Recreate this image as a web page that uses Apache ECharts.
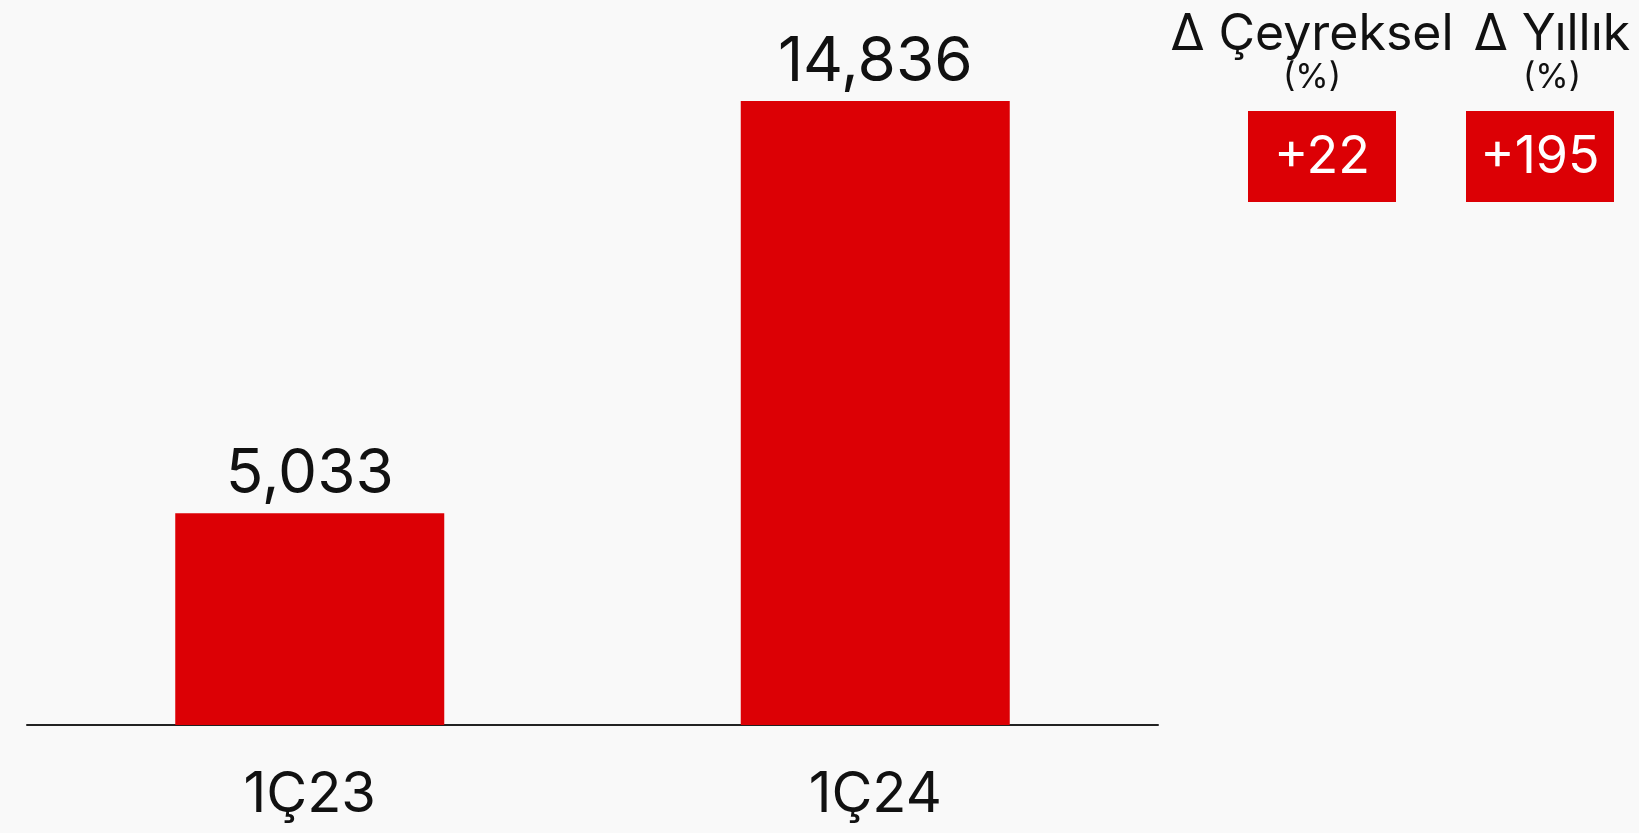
<!DOCTYPE html>
<html>
<head>
<meta charset="utf-8">
<script src="https://cdn.jsdelivr.net/npm/echarts@6/dist/echarts.min.js"></script>
<style>
  html, body { margin: 0; padding: 0; background: #f9f9f9; }
  #main { width: 1639px; height: 833px; }
</style>
</head>
<body>
<div id="main"></div>
<script>
// data
const categories = ['1Ç23', '1Ç24'];
const values = [5033, 14836];
const changeTitles = ['Δ Çeyreksel', 'Δ Yıllık'];
const changeValues = ['+22', '+195'];

const RED = '#dc0005';
const FONT = 'Inter, "Noto Sans", sans-serif';

const chart = echarts.init(document.getElementById('main'));

// right-hand boxes
const boxX = [1248, 1466];
const titleX = [1312, 1552];
const graphics = [];
changeTitles.forEach(function (t, i) {
  graphics.push({
    type: 'text', x: titleX[i], y: 10,
    style: { text: t, font: '50px ' + FONT, fill: '#111', align: 'center', verticalAlign: 'top' }
  });
  graphics.push({
    type: 'text', x: titleX[i], y: 61,
    style: { text: '(%)', font: '34px ' + FONT, fill: '#111', align: 'center', verticalAlign: 'top' }
  });
  graphics.push({
    type: 'rect', shape: { x: boxX[i], y: 111, width: 148, height: 91 },
    style: { fill: RED }
  });
  graphics.push({
    type: 'text', x: boxX[i] + 74, y: 157,
    style: { text: changeValues[i], font: '52px ' + FONT, fill: '#fff', align: 'center', verticalAlign: 'middle' }
  });
});

chart.setOption({
  backgroundColor: '#f9f9f9',
  animation: false,
  grid: { left: 27, right: 481, top: 101, bottom: 108 },
  xAxis: {
    type: 'category',
    data: categories,
    axisLine: { lineStyle: { color: '#222', width: 2 } },
    axisTick: { show: false },
    axisLabel: { color: '#111', fontFamily: FONT, fontSize: 56, margin: 42 }
  },
  yAxis: {
    type: 'value',
    min: 0,
    max: Math.max.apply(null, values),
    show: false,
    splitLine: { show: false }
  },
  series: [{
    type: 'bar',
    data: values,
    barWidth: 269,
    itemStyle: { color: RED },
    label: {
      show: true,
      position: 'top',
      distance: 8,
      color: '#111',
      fontFamily: FONT,
      fontSize: 62,
      formatter: function (p) { return p.value.toLocaleString('en-US'); }
    }
  }],
  graphic: graphics
});
</script>
</body>
</html>
